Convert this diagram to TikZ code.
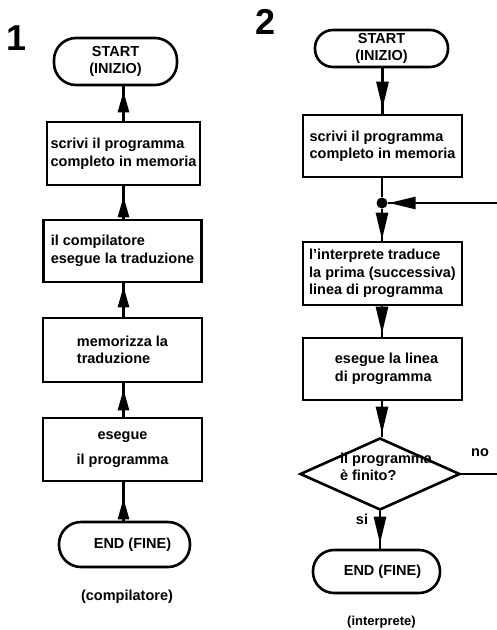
\documentclass[tikz,border=0pt]{standalone}
\usepackage{fontspec}
\setmainfont{Liberation Sans}
\usetikzlibrary{shapes.geometric,arrows.meta,decorations.markings}
\newcommand{\txtf}{\bfseries\fontsize{14.5}{17.5}\selectfont}
\newcommand{\smf}{\bfseries\fontsize{13}{16}\selectfont}
\newcommand{\bigf}{\bfseries\fontsize{36}{40}\selectfont}
\begin{document}
\begin{tikzpicture}[x=1pt,y=-1pt,
  ln/.style={line width=2.6pt},
  proc/.style={draw, ln, rectangle, inner sep=1pt, align=left, font=\txtf},
  term/.style={draw, ln, rectangle, rounded corners=#1, inner sep=1pt, align=center, font=\txtf},
  decision/.style={draw, ln, diamond, inner sep=0pt},
  lbl/.style={inner sep=0pt, font=\txtf},
  num/.style={inner sep=0pt, font=\bigf},
  upa/.style={ln, postaction={decorate}, decoration={markings,
      mark=at position #1 with {\arrow{Triangle[length=21pt,width=11pt]}}}},
  dna/.style={ln, postaction={decorate}, decoration={markings,
      mark=at position #1 with {\arrow{Triangle[length=27pt,width=12pt]}}}}
]
\useasboundingbox[fill=white] (0,0) rectangle (497,630);

% ---- left flowchart (compilatore)
\node[num] (n1) at (16.5,38) {1};
\node[term=22pt, minimum width=123pt, minimum height=47pt] (Ls) at (115.5,61.5) {START\\(INIZIO)};
\node[proc, minimum width=153pt, minimum height=63pt] (L1) at (123.5,153.5) {scrivi il programma\\completo in memoria};
\node[proc, minimum width=158pt, minimum height=62pt] (L2) at (122.5,251) {il compilatore\\esegue la traduzione};
\node[proc, minimum width=159pt, minimum height=64pt] (L3) at (122.5,350) {memorizza la\\traduzione};
\node[proc, align=center, minimum width=159pt, minimum height=63pt] (L4) at (122.5,449.5) {esegue\\[7pt]il programma};
\node[term=22pt, minimum width=131pt, minimum height=45pt] (Le) at (124.5,544.5) {\hspace*{16pt}END (FINE)};
\node[lbl] (Lc) at (127,597) {(compilatore)};

\draw[upa=-5pt]  (L1.north) -- (L1.north |- Ls.south);
\draw[upa=-10pt] (L2.north -| L1.north) -- (L1.south);
\draw[upa=-3pt]  (L3.north -| L1.north) -- (L1.north |- L2.south);
\draw[upa=-6pt]  (L4.north -| L1.north) -- (L1.north |- L3.south);
\draw[upa=-16pt] (Le.north -| L1.north) -- (L1.north |- L4.south);

% ---- right flowchart (interprete)
\node[num] (n2) at (266,22) {2};
\node[term=18pt, minimum width=133pt, minimum height=37pt] (Rs) at (381.5,48.5) {START\\(INIZIO)};
\node[proc, minimum width=159pt, minimum height=62pt] (R1) at (382.5,146) {scrivi il programma\\completo in memoria};
\node[circle, fill, inner sep=0pt, minimum size=11pt] (dot) at (382,203) {};
\node[proc, minimum width=159pt, minimum height=63pt] (R2) at (382.5,273.5) {l'interprete traduce\\la prima (successiva)\\linea di programma};
\node[proc, minimum width=159pt, minimum height=62pt] (R3) at (382.5,369) {\hspace*{8pt}esegue la linea\\\hspace*{8pt}di programma};
\node[decision, minimum width=160pt, minimum height=72pt] (Rd) at (380,474) {};
\node[lbl, align=left] (Rdt) at (386,467) {il programma\\è finito?};
\node[term=21pt, minimum width=127pt, minimum height=43pt] (Re) at (376.5,571.5) {\hspace*{12pt}END (FINE)};
\node[lbl, font=\smf] (Rc) at (381.5,622) {(interprete)};
\node[lbl] (no) at (480,453) {no};
\node[lbl] (si) at (362,519) {si};

\draw[dna=-5pt] (R1.north |- Rs.south) -- (R1.north);
\draw[ln] (R1.south -| dot) -- (dot);
\draw[dna=-1pt] (dot) -- (dot |- R2.north);
\draw[dna=-3pt] (R2.south -| dot) -- (dot |- R3.north);
\draw[dna=-3pt] (R3.south -| dot) -- (dot |- Rd.north);
\draw[dna=-5pt] (Rd.south) -- (Rd.south |- Re.north);
\draw[dna=-1pt] (Rd.east) -- ++(60,0) |- (dot.east);
\end{tikzpicture}
\end{document}
